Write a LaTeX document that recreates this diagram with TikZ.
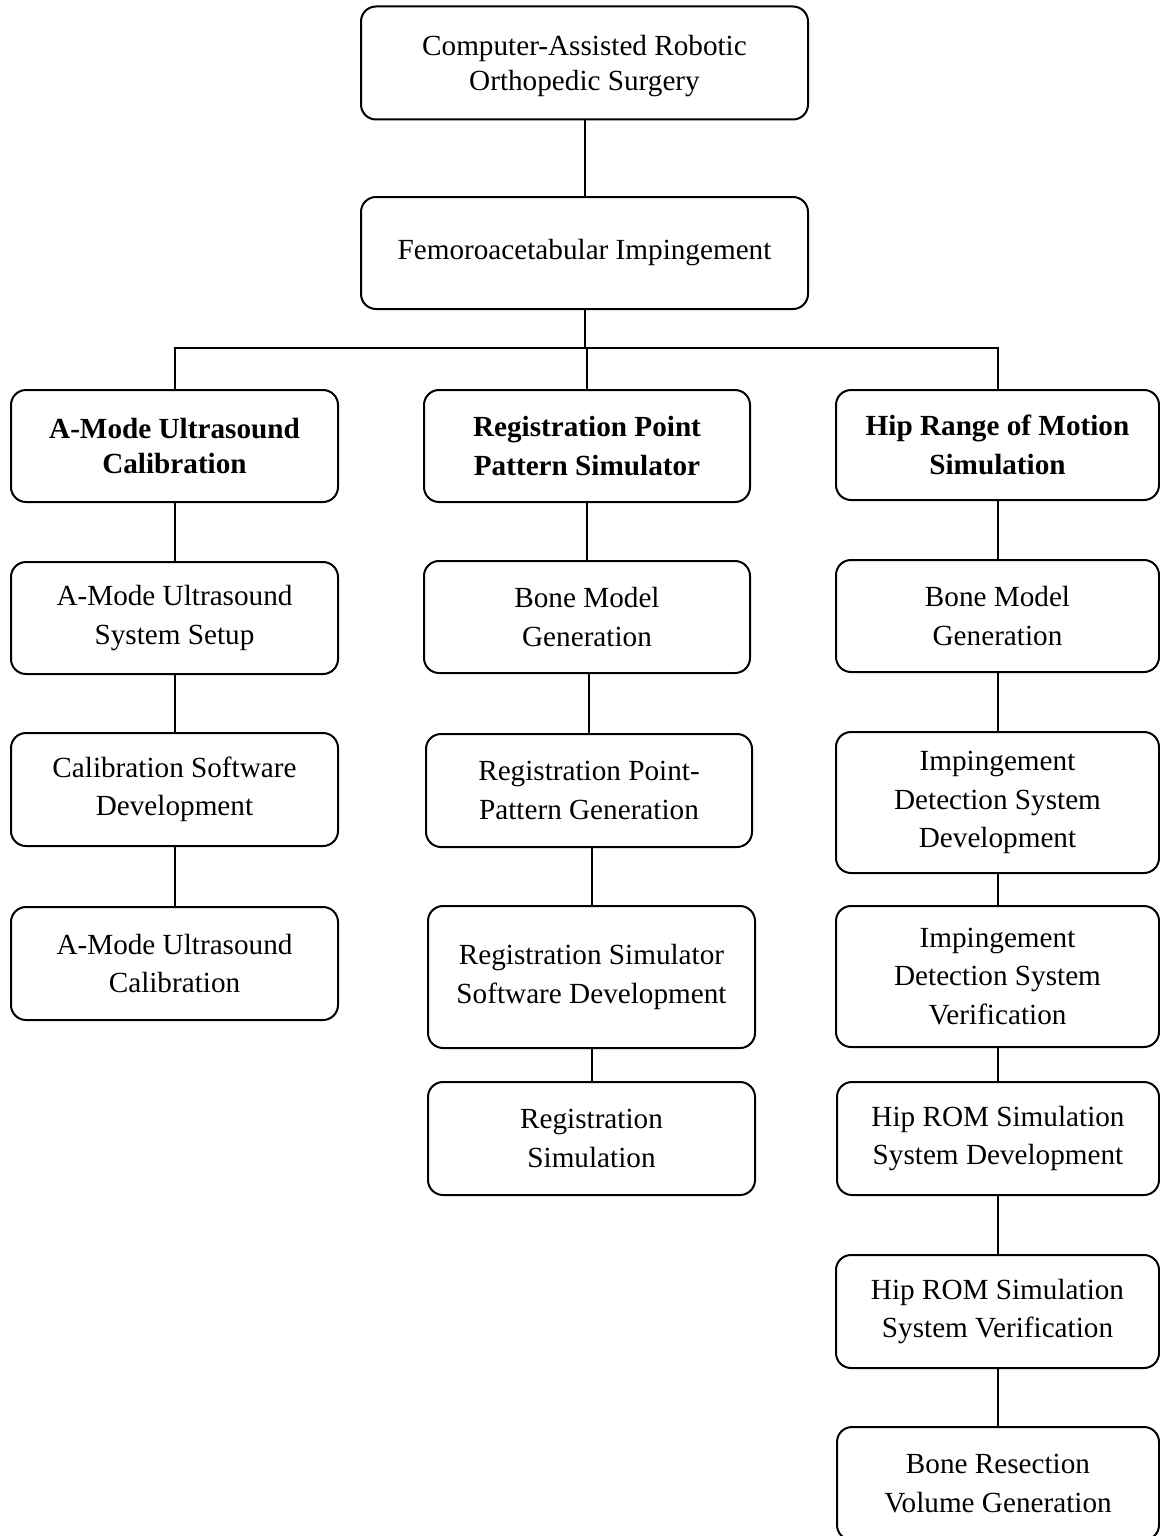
\documentclass[tikz,border=0pt]{standalone}
\usepackage{fontspec}
\setmainfont{Liberation Serif}
\begin{document}
\begin{tikzpicture}[x=0.5pt,y=-0.5pt,
  box/.style 2 args={draw, line width=1pt, rounded corners=7.5pt,
    minimum width=#1, minimum height=#2, inner sep=0pt, align=center,
    font=\fontsize{14.6}{19.2}\selectfont},
  head/.style={font=\fontsize{14.6}{19.2}\selectfont\bfseries},
  link/.style={line width=1pt}]
\useasboundingbox (0,0) rectangle (1160,1536);
\clip (0,0) rectangle (1160,1536);

% root and second level
\node[box={223.5pt}{56.5pt}, text depth=-3pt] (root) at (584.5,63) {Computer-Assisted Robotic\\[-1.5pt]Orthopedic Surgery};
\node[box={223.5pt}{56pt}] (fai) at (584.5,253) {Femoroacetabular Impingement};

% left branch
\node[box={163.5pt}{56pt}, head] (us) at (174.5,446) {A-Mode Ultrasound\\[-2pt]Calibration};
\node[box={163.5pt}{56pt}] (us1) at (174.5,618) {A-Mode Ultrasound\\System Setup};
\node[box={163.5pt}{56.5pt}] (us2) at (174.5,789.5) {Calibration Software\\Development};
\node[box={163.5pt}{56.5pt}] (us3) at (174.5,963.5) {A-Mode Ultrasound\\Calibration};

% middle branch
\node[box={163pt}{56pt}, head] (rp) at (587,446) {Registration Point\\Pattern Simulator};
\node[box={163pt}{56pt}] (rp1) at (587,617) {Bone Model\\Generation};
\node[box={163pt}{56.5pt}] (rp2) at (589,790.5) {Registration Point-\\Pattern Generation};
\node[box={163.5pt}{71pt}] (rp3) at (591.5,977) {Registration Simulator\\Software Development};
\node[box={163.5pt}{56.5pt}] (rp4) at (591.5,1138.5) {Registration\\Simulation};

% right branch
\node[box={161.5pt}{55pt}, head] (hr) at (997.5,445) {Hip Range of Motion\\Simulation};
\node[box={161.5pt}{56pt}] (hr1) at (997.5,616) {Bone Model\\Generation};
\node[box={161.5pt}{70.5pt}] (hr2) at (997.5,802.5) {Impingement\\Detection System\\Development};
\node[box={161.5pt}{70.5pt}] (hr3) at (997.5,976.5) {Impingement\\Detection System\\Verification};
\node[box={161pt}{56.5pt}] (hr4) at (998,1138.5) {Hip ROM Simulation\\System Development};
\node[box={161.5pt}{56.5pt}] (hr5) at (997.5,1311.5) {Hip ROM Simulation\\System Verification};
\node[box={161pt}{56.5pt}] (hr6) at (998,1483.5) {Bone Resection\\Volume Generation};

% connectors
\coordinate (bus) at (584.5,348);
\draw[link] (root.south) -- (fai.north);
\draw[link] (fai.south) -- (bus);
\draw[link] (us.north) |- (bus) -| (hr.north);
\draw[link] (rp.north) -- (rp.north |- bus);

\draw[link] (us1.north) -- (us1.north |- us.south);
\draw[link] (us2.north) -- (us2.north |- us1.south);
\draw[link] (us3.north) -- (us3.north |- us2.south);

\draw[link] (rp1.north) -- (rp1.north |- rp.south);
\draw[link] (rp2.north) -- (rp2.north |- rp1.south);
\draw[link] (rp3.north) -- (rp3.north |- rp2.south);
\draw[link] (rp4.north) -- (rp4.north |- rp3.south);

\draw[link] (hr1.north) -- (hr1.north |- hr.south);
\draw[link] (hr2.north) -- (hr2.north |- hr1.south);
\draw[link] (hr3.north) -- (hr3.north |- hr2.south);
\draw[link] (hr4.north) -- (hr4.north |- hr3.south);
\draw[link] (hr5.north) -- (hr5.north |- hr4.south);
\draw[link] (hr6.north) -- (hr6.north |- hr5.south);
\end{tikzpicture}
\end{document}
